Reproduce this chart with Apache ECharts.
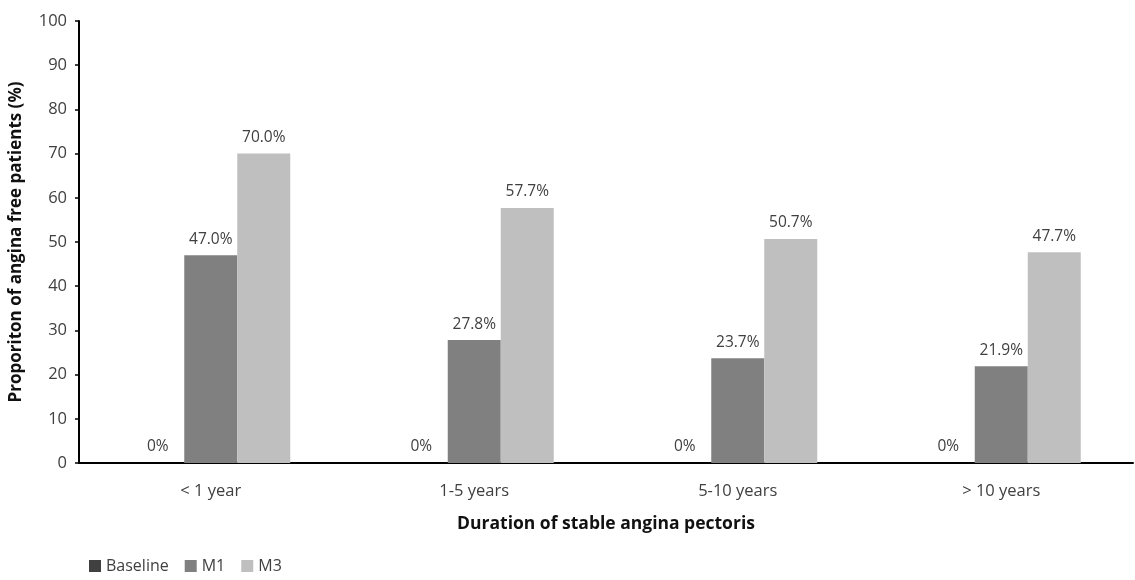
<!DOCTYPE html>
<html><head><meta charset="utf-8">
<script src="https://cdn.jsdelivr.net/npm/echarts@6/dist/echarts.min.js"></script>
<style>html,body{margin:0;padding:0;background:#fff}#c{width:1135px;height:580px}</style>
</head><body><div id="c"></div>
<script>
const categories = ['< 1 year', '1-5 years', '5-10 years', '> 10 years'];
const baseline = [0, 0, 0, 0];
const m1 = [47.0, 27.8, 23.7, 21.9];
const m3 = [70.0, 57.7, 50.7, 47.7];
const yTicks = [0, 10, 20, 30, 40, 50, 60, 70, 80, 90, 100];

const font = '"Open Sans", "Liberation Sans", sans-serif';
const chart = echarts.init(document.getElementById('c'));
function lbl(fmt) {
  return { show: true, position: 'top', distance: 8, color: '#404040', fontSize: 15.5, fontFamily: font, formatter: fmt };
}
chart.setOption({
  animation: false,
  textStyle: { fontFamily: font },
  grid: { left: 79, right: 2, top: 21, bottom: 117 },
  legend: {
    left: 84, bottom: 1, itemWidth: 12, itemHeight: 12, itemGap: 16,
    icon: 'rect',
    textStyle: { color: '#404040', fontSize: 16, fontFamily: font },
    data: ['Baseline', 'M1', 'M3']
  },
  xAxis: {
    type: 'category', data: categories,
    axisLine: { lineStyle: { color: '#000', width: 2 } },
    axisTick: { show: false },
    axisLabel: { color: '#404040', fontSize: 16.5, margin: 20, fontFamily: font },
    name: 'Duration of stable angina pectoris', nameLocation: 'middle', nameGap: 52,
    nameTextStyle: { color: '#111', fontSize: 17.5, fontWeight: 'bold', fontFamily: font }
  },
  yAxis: {
    type: 'value', min: yTicks[0], max: yTicks[yTicks.length - 1], interval: 10,
    splitLine: { show: false },
    axisLine: { show: true, lineStyle: { color: '#000', width: 2 } },
    axisTick: { show: true, length: 4, lineStyle: { color: '#000', width: 1.5 } },
    axisLabel: { color: '#404040', fontSize: 16.5, margin: 12, fontFamily: font },
    name: 'Proporiton of angina free patients (%)', nameLocation: 'middle', nameGap: 54,
    nameTextStyle: { color: '#111', fontSize: 17, fontWeight: 'bold', fontFamily: font }
  },
  series: [
    { name: 'Baseline', type: 'bar', data: baseline, barWidth: 53, barGap: '0%',
      itemStyle: { color: '#404040' }, label: lbl(p => p.value.toFixed(0) + '%') },
    { name: 'M1', type: 'bar', data: m1, barWidth: 53, barGap: '0%',
      itemStyle: { color: '#808080' }, label: lbl(p => p.value.toFixed(1) + '%') },
    { name: 'M3', type: 'bar', data: m3, barWidth: 53, barGap: '0%',
      itemStyle: { color: '#bfbfbf' }, label: lbl(p => p.value.toFixed(1) + '%') }
  ]
});
</script></body></html>
